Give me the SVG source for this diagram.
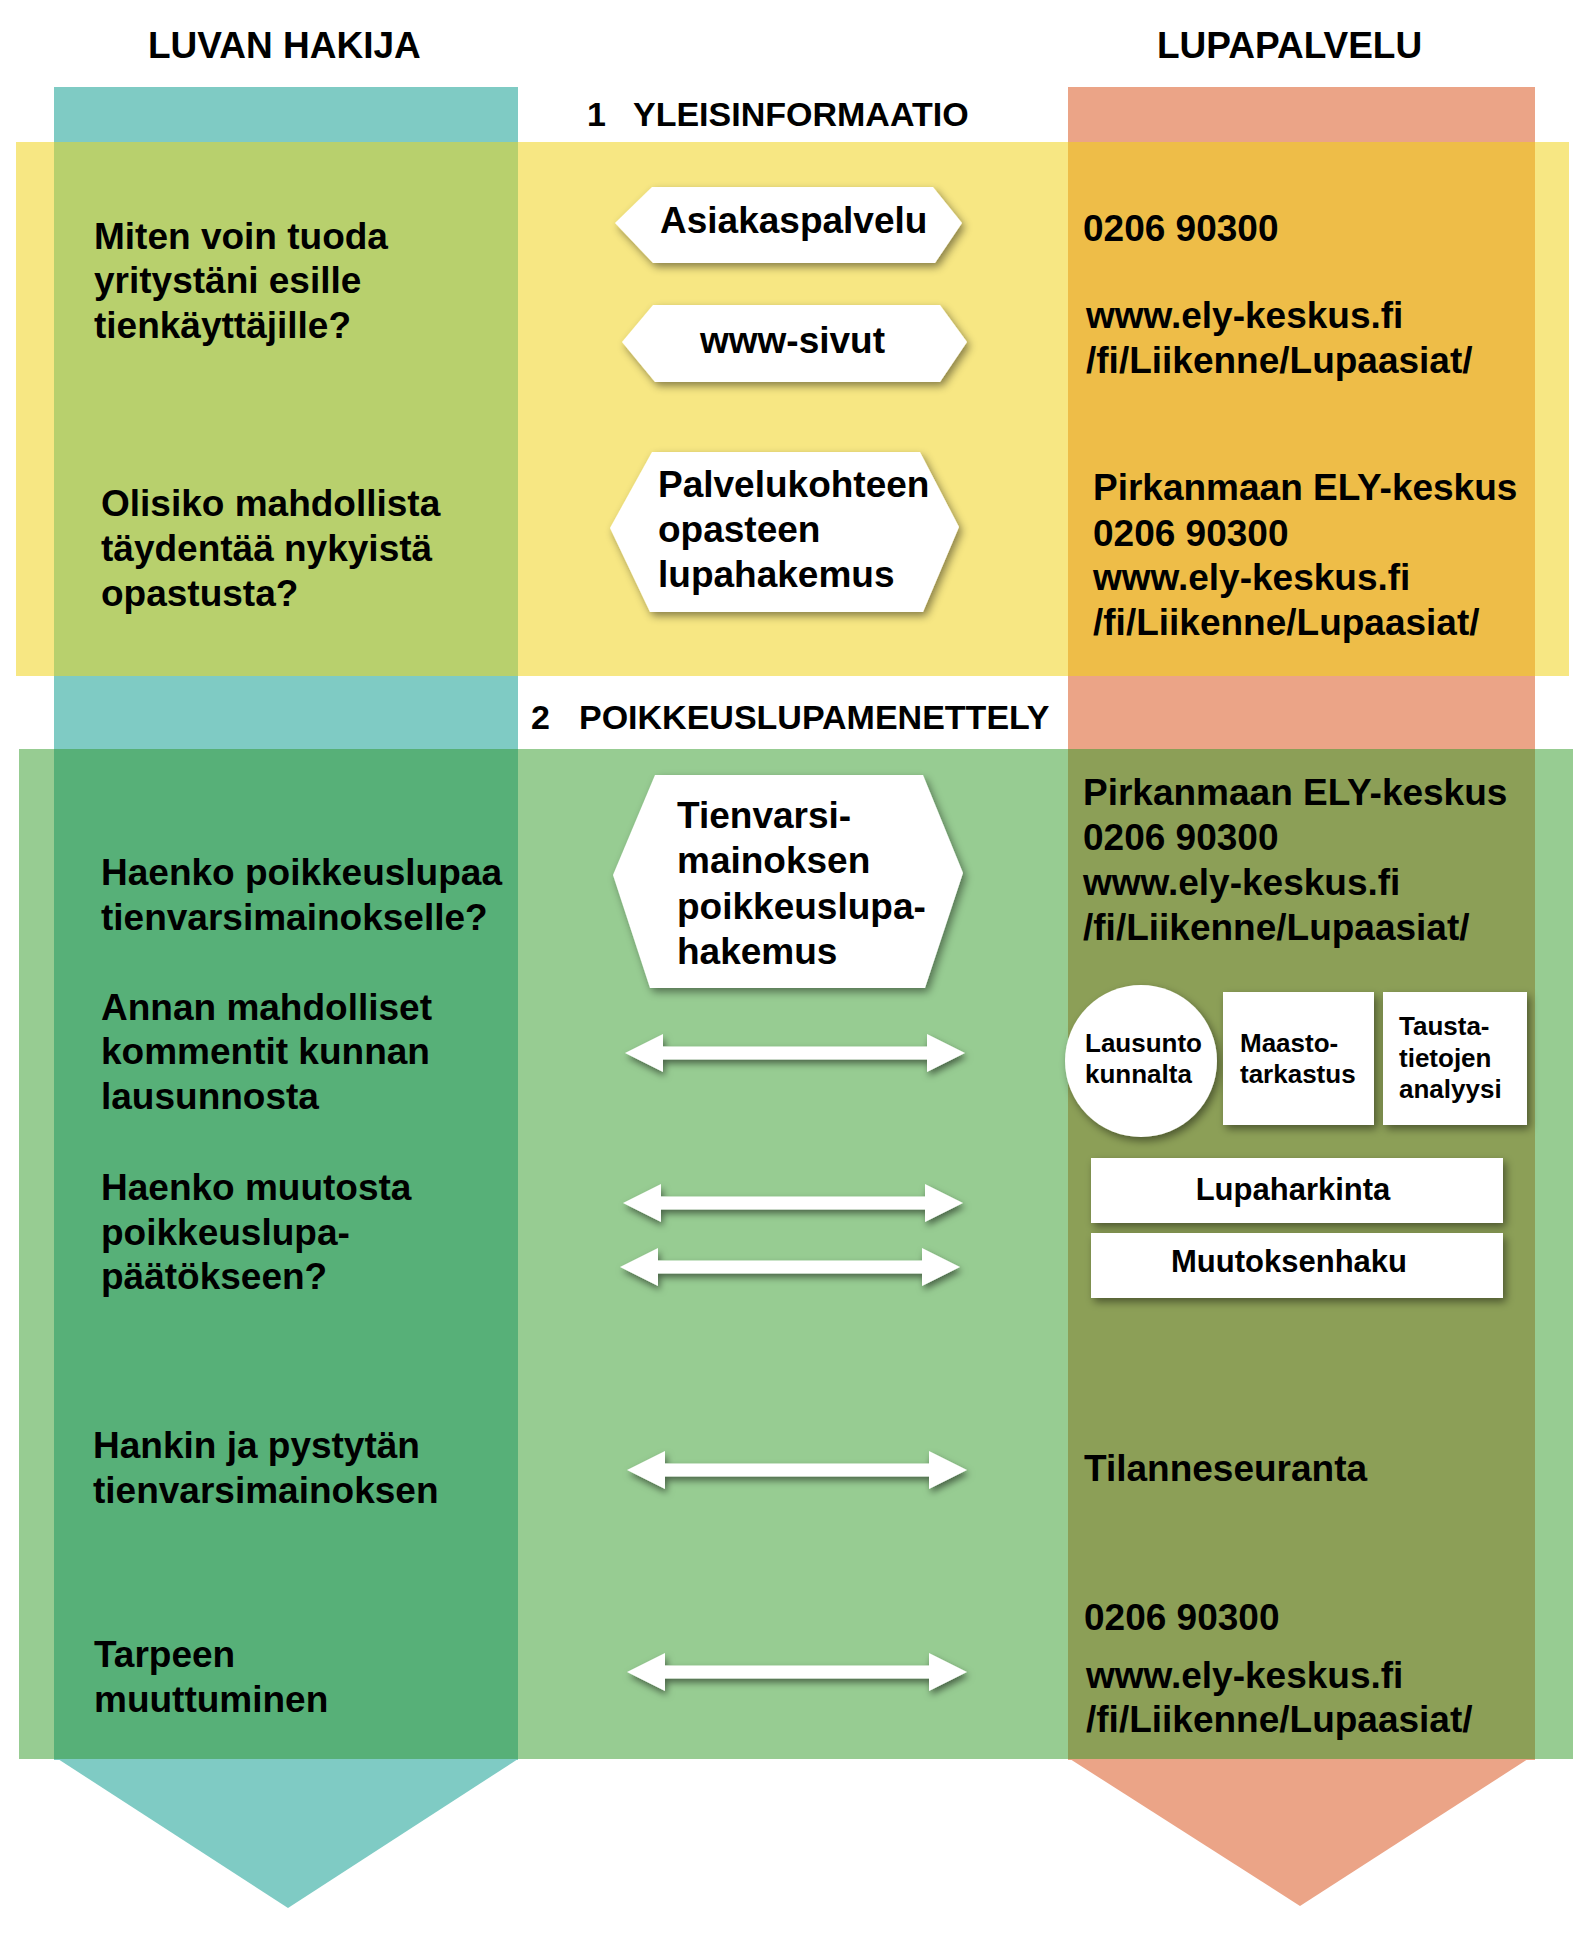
<svg xmlns="http://www.w3.org/2000/svg" xmlns:xlink="http://www.w3.org/1999/xlink" width="1596" height="1937" viewBox="0 0 1596 1937">
<style>
text{font-family:"Liberation Sans",Arial,Helvetica,sans-serif;font-weight:bold;fill:#000}
.t37{font-size:37px}
.t34{font-size:34px}
.t26{font-size:26px}
.t31{font-size:31px}
.shape{fill:#fff;filter:url(#sh)}
.arrow{fill:#fff;filter:url(#sh2)}
</style>
<defs>
<filter id="sh" x="-20%" y="-30%" width="140%" height="160%">
<feDropShadow dx="3" dy="4" stdDeviation="4" flood-color="#000" flood-opacity="0.45"/>
</filter>
<filter id="sh2" x="-20%" y="-100%" width="140%" height="300%">
<feDropShadow dx="2" dy="4" stdDeviation="3.5" flood-color="#000" flood-opacity="0.5"/>
</filter>
<path id="dbl" d="M0,0 L38,-19 L38,-6.5 L302,-6.5 L302,-19 L340,0 L302,19 L302,6.5 L38,6.5 L38,19 Z"/>
</defs>

<rect width="1596" height="1937" fill="#fff"/>

<!-- background columns and bands -->
<g id="background">
<rect x="54" y="87" width="464" height="1673" fill="#7FCBC4"/>
<rect x="1068" y="87" width="467" height="1673" fill="#EBA487"/>
<polygon points="58,1759 518,1759 288,1908" fill="#7FCBC4"/>
<polygon points="1070,1759 1528,1759 1300,1906" fill="#EBA487"/>
<rect x="16" y="142" width="1553" height="534" fill="#F7E783"/>
<rect x="54" y="142" width="464" height="534" fill="#B8D06D"/>
<rect x="1068" y="142" width="467" height="534" fill="#EEBD48"/>
<rect x="19" y="749" width="1554" height="1010" fill="#97CC92"/>
<rect x="54" y="749" width="464" height="1010" fill="#57B078"/>
<rect x="1068" y="749" width="467" height="1010" fill="#8C9F57"/>
</g>

<g id="titles">
<text class="t37" x="148" y="58">LUVAN HAKIJA</text>
<text class="t37" x="1157" y="58">LUPAPALVELU</text>
<text class="t34" x="587" y="126">1</text>
<text class="t34" x="633" y="126">YLEISINFORMAATIO</text>
<text class="t34" x="531" y="729">2</text>
<text class="t34" x="579" y="729">POIKKEUSLUPAMENETTELY</text>
</g>

<!-- applicant questions -->
<g id="q1">
<text class="t37" x="94" y="249">Miten voin tuoda</text>
<text class="t37" x="94" y="293">yritystäni esille</text>
<text class="t37" x="94" y="338">tienkäyttäjille?</text>
</g>
<g id="q2">
<text class="t37" x="101" y="516">Olisiko mahdollista</text>
<text class="t37" x="101" y="561">täydentää nykyistä</text>
<text class="t37" x="101" y="606">opastusta?</text>
</g>
<g id="q3">
<text class="t37" x="101" y="885">Haenko poikkeuslupaa</text>
<text class="t37" x="101" y="930">tienvarsimainokselle?</text>
</g>
<g id="q4">
<text class="t37" x="101" y="1020">Annan mahdolliset</text>
<text class="t37" x="101" y="1064">kommentit kunnan</text>
<text class="t37" x="101" y="1109">lausunnosta</text>
</g>
<g id="q5">
<text class="t37" x="101" y="1200">Haenko muutosta</text>
<text class="t37" x="101" y="1245">poikkeuslupa-</text>
<text class="t37" x="101" y="1289">päätökseen?</text>
</g>
<g id="q6">
<text class="t37" x="93" y="1458">Hankin ja pystytän</text>
<text class="t37" x="93" y="1503">tienvarsimainoksen</text>
</g>
<g id="q7">
<text class="t37" x="94" y="1667">Tarpeen</text>
<text class="t37" x="94" y="1712">muuttuminen</text>
</g>

<!-- middle channel nodes -->
<g id="asiakaspalvelu">
<polygon class="shape" points="615,223 652,187 933,187 962,223 935,263 653,263"/>
<text class="t37" x="660" y="233">Asiakaspalvelu</text>
</g>
<g id="www-sivut">
<polygon class="shape" points="622,342 653,305 940,305 967,342 940,382 655,382"/>
<text class="t37" x="700" y="353">www-sivut</text>
</g>
<g id="palvelukohteen">
<polygon class="shape" points="610,528 652,452 920,452 959,527 923,612 650,612"/>
<text class="t37" x="658" y="497">Palvelukohteen</text>
<text class="t37" x="658" y="542">opasteen</text>
<text class="t37" x="658" y="587">lupahakemus</text>
</g>
<g id="tienvarsi">
<polygon class="shape" points="613,875 655,775 923,775 963,873 925,988 650,988"/>
<text class="t37" x="677" y="828">Tienvarsi-</text>
<text class="t37" x="677" y="873">mainoksen</text>
<text class="t37" x="677" y="919">poikkeuslupa-</text>
<text class="t37" x="677" y="964">hakemus</text>
</g>

<!-- service texts -->
<g id="s1">
<text class="t37" x="1083" y="241">0206 90300</text>
</g>
<g id="s2">
<text class="t37" x="1086" y="328">www.ely-keskus.fi</text>
<text class="t37" x="1086" y="373">/fi/Liikenne/Lupaasiat/</text>
</g>
<g id="s3">
<text class="t37" x="1093" y="500">Pirkanmaan ELY-keskus</text>
<text class="t37" x="1093" y="546">0206 90300</text>
<text class="t37" x="1093" y="590">www.ely-keskus.fi</text>
<text class="t37" x="1093" y="635">/fi/Liikenne/Lupaasiat/</text>
</g>
<g id="s4">
<text class="t37" x="1083" y="805">Pirkanmaan ELY-keskus</text>
<text class="t37" x="1083" y="850">0206 90300</text>
<text class="t37" x="1083" y="895">www.ely-keskus.fi</text>
<text class="t37" x="1083" y="940">/fi/Liikenne/Lupaasiat/</text>
</g>
<g id="lausunto">
<circle class="shape" cx="1141" cy="1061" r="76"/>
<text class="t26" x="1085" y="1052">Lausunto</text>
<text class="t26" x="1085" y="1083">kunnalta</text>
</g>
<g id="maastotarkastus">
<rect class="shape" x="1223" y="992" width="151" height="133"/>
<text class="t26" x="1240" y="1052">Maasto-</text>
<text class="t26" x="1240" y="1083">tarkastus</text>
</g>
<g id="taustatietojen">
<rect class="shape" x="1383" y="992" width="144" height="133"/>
<text class="t26" x="1399" y="1035">Tausta-</text>
<text class="t26" x="1399" y="1067">tietojen</text>
<text class="t26" x="1399" y="1098">analyysi</text>
</g>
<g id="lupaharkinta">
<rect class="shape" x="1091" y="1158" width="412" height="65"/>
<text class="t31" x="1293" y="1200" text-anchor="middle">Lupaharkinta</text>
</g>
<g id="muutoksenhaku">
<rect class="shape" x="1091" y="1233" width="412" height="65"/>
<text class="t31" x="1289" y="1272" text-anchor="middle">Muutoksenhaku</text>
</g>
<g id="tilanneseuranta">
<text class="t37" x="1084" y="1481">Tilanneseuranta</text>
</g>
<g id="s5">
<text class="t37" x="1084" y="1630">0206 90300</text>
<text class="t37" x="1086" y="1688">www.ely-keskus.fi</text>
<text class="t37" x="1086" y="1732">/fi/Liikenne/Lupaasiat/</text>
</g>

<!-- connectors -->
<g id="connectors">
<use xlink:href="#dbl" class="arrow" x="625" y="1053"/>
<use xlink:href="#dbl" class="arrow" x="623" y="1203"/>
<use xlink:href="#dbl" class="arrow" x="620" y="1267"/>
<use xlink:href="#dbl" class="arrow" x="627" y="1470"/>
<use xlink:href="#dbl" class="arrow" x="627" y="1672"/>
</g>
</svg>
